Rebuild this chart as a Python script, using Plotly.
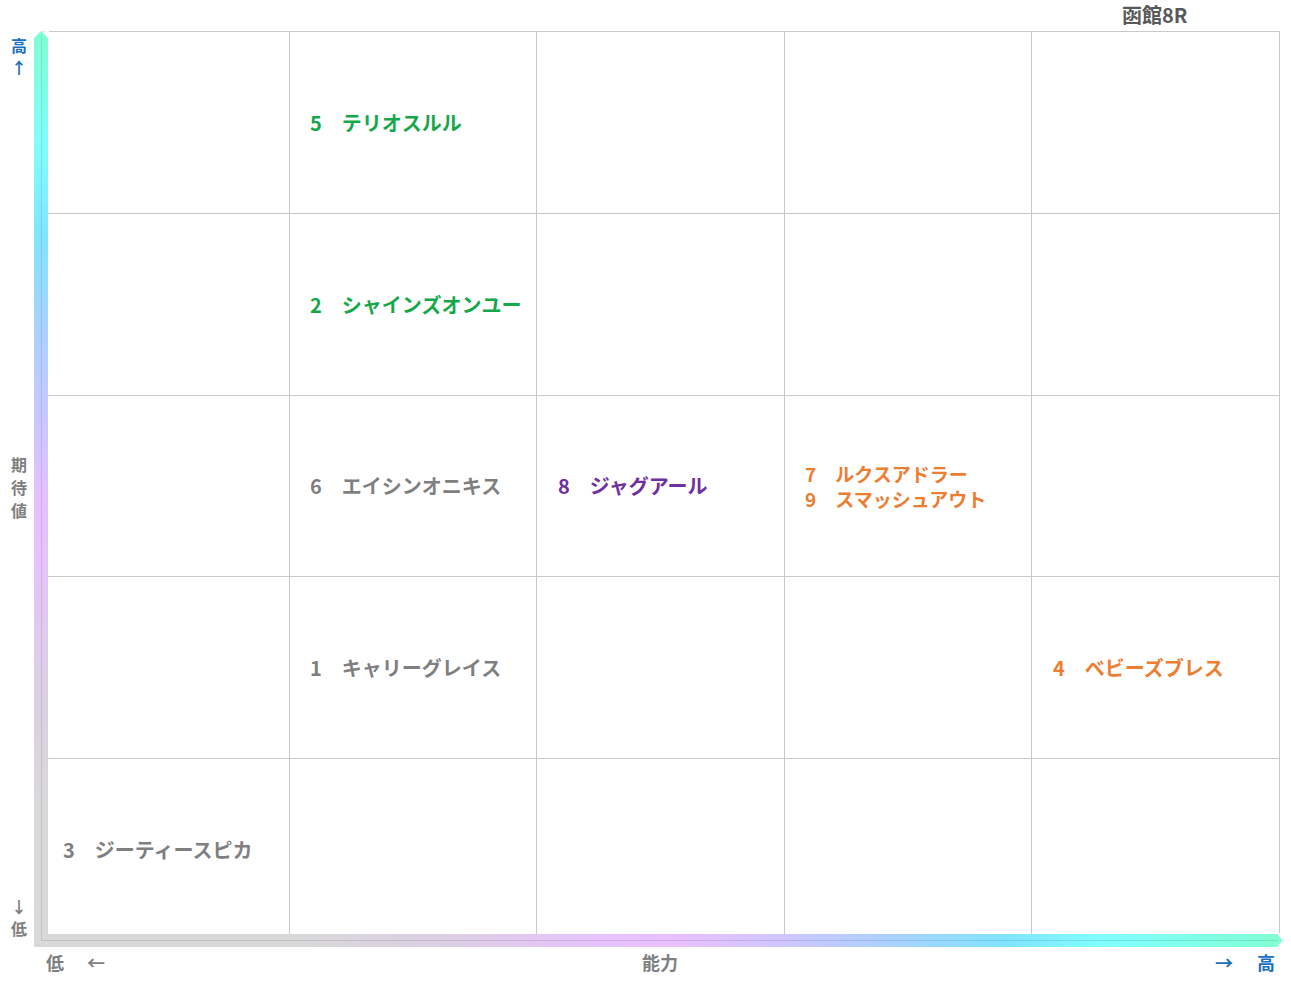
import plotly.graph_objects as go
import numpy as np

# ---------------- data ----------------
numbers = ["5", "2", "6", "8", "7", "9", "1", "4", "3"]
names = ["テリオスルル", "シャインズオンユー", "エイシンオニキス", "ジャグアール",
         "ルクスアドラー", "スマッシュアウト", "キャリーグレイス", "ベビーズブレス", "ジーティースピカ"]
ability = [2, 2, 2, 3, 4, 4, 2, 5, 1]       # column (能力) 1..5
expectation = [5, 4, 3, 3, 3, 3, 2, 2, 1]   # row (期待値) 1..5
groups = ["green", "green", "gray", "purple", "orange", "orange", "gray", "orange", "gray"]

title_text = "函館8R"
x_label = "能力"
y_label = "期待値"

# ---------------- style ----------------
W, H = 1291, 983
PX_L, PX_R, PX_T, PX_B = 42, 1279, 32, 940
COLORS = {"green": "#15a84a", "gray": "#7f7f7f", "purple": "#7030a0", "orange": "#ed7d31"}
BLUE = "#1a6fc0"
GREY = "#7f7f7f"
FONT = "Noto Sans CJK JP"
LINE_GAP = 25


def px(x):
    return x / W


def py(y):
    return 1 - y / H


fig = go.Figure()

# invisible trace to create the main axes
fig.add_trace(go.Scatter(x=[0, 5], y=[0, 5], mode="markers",
                         marker=dict(opacity=0), hoverinfo="skip", showlegend=False))

# group entries by cell
cells = {}
for n, nm, a, e, g in zip(numbers, names, ability, expectation, groups):
    cells.setdefault((a, e), []).append((n, nm, g))

annotations = []
for (a, e), items in cells.items():
    k = len(items)
    for i, (n, nm, g) in enumerate(items):
        annotations.append(dict(
            x=a - 1, y=e - 0.5, xref="x", yref="y", xanchor="left", yanchor="middle",
            xshift=20, yshift=((k - 1) / 2 - i) * LINE_GAP,
            text=f"<b>{n}　{nm}</b>", showarrow=False, align="left", borderpad=0,
            font=dict(family=FONT, size=19 if k > 1 else 20, color=COLORS[g])))


# axis decoration texts
def txt(x, y, s, color, size=18):
    annotations.append(dict(x=px(x), y=py(y), xref="paper", yref="paper",
                            xanchor="center", yanchor="middle", text=f"<b>{s}</b>",
                            showarrow=False, borderpad=0,
                            font=dict(family=FONT, size=size, color=color)))


txt(1155, 14, title_text, "#595959", 20)
txt(19, 45, "高", BLUE, 16)
txt(19, 67, "↑", BLUE, 16)
for i, ch in enumerate(y_label):
    txt(19, 464 + 23 * i, ch, GREY, 16)
txt(19, 906, "↓", GREY, 16)
txt(19, 928, "低", GREY, 16)
txt(55, 962, "低", GREY)
txt(96, 962, "←", GREY)
txt(660, 962, x_label, GREY)
txt(1224, 962, "→", BLUE)
txt(1266, 962, "高", BLUE)

# gradient bars (decorative)
v_scale = [[0.0, "#d9d9d9"], [0.15, "#d9d9d9"], [0.28, "#dccfe4"], [0.42, "#e6c3fb"],
           [0.5, "#e4c0ff"], [0.58, "#c8c8ff"], [0.68, "#a9d2ff"], [0.78, "#80e4ff"],
           [0.88, "#80ffff"], [1.0, "#80ffd4"]]
h_scale = [[0.0, "#d9d9d9"], [0.2, "#d9d9d9"], [0.33, "#dccfe4"], [0.45, "#e6c3fb"],
           [0.52, "#e8c0ff"], [0.6, "#cfc6ff"], [0.68, "#aed0ff"], [0.78, "#80e4ff"],
           [0.86, "#80ffff"], [1.0, "#80ffd4"]]
N = 120
grad = np.linspace(0, 1, N)
fig.add_trace(go.Heatmap(z=np.column_stack([grad, grad]), colorscale=v_scale, zsmooth="best",
                         showscale=False, hoverinfo="skip", xaxis="x2", yaxis="y2"))
fig.add_trace(go.Heatmap(z=np.vstack([grad, grad]), colorscale=h_scale, zsmooth="best",
                         showscale=False, hoverinfo="skip", xaxis="x3", yaxis="y3"))

hidden = dict(visible=False, fixedrange=True)
fig.update_layout(
    width=W, height=H,
    margin=dict(l=0, r=0, t=0, b=0),
    paper_bgcolor="white", plot_bgcolor="white",
    showlegend=False,
    xaxis=dict(domain=[px(PX_L), px(PX_R)], range=[0, 5], dtick=1, showgrid=True,
               gridcolor="#c8c8c8", gridwidth=1, zeroline=False, showticklabels=False,
               showline=True, mirror=True, linecolor="#c8c8c8", fixedrange=True),
    yaxis=dict(domain=[py(PX_B), py(PX_T)], range=[0, 5], dtick=1, showgrid=True,
               gridcolor="#c8c8c8", gridwidth=1, zeroline=False, showticklabels=False,
               showline=True, mirror=True, linecolor="#c8c8c8", fixedrange=True),
    xaxis2=dict(domain=[px(34), px(48)], anchor="y2", **hidden),
    yaxis2=dict(domain=[py(947), py(32)], anchor="x2", **hidden),
    xaxis3=dict(domain=[px(34), px(1282)], anchor="y3", **hidden),
    yaxis3=dict(domain=[py(947), py(934)], anchor="x3", **hidden),
    annotations=annotations,
    shapes=[
        # centre lines of the bars
        dict(type="line", xref="paper", yref="paper", x0=px(41.5), x1=px(41.5), y0=py(940), y1=py(36),
             line=dict(color="rgba(0,0,0,0.10)", width=1)),
        dict(type="line", xref="paper", yref="paper", x0=px(41), x1=px(1278), y0=py(940.5), y1=py(940.5),
             line=dict(color="rgba(0,0,0,0.10)", width=1)),
        # pointed tips
        dict(type="path", xref="paper", yref="paper", fillcolor="white", line=dict(width=0),
             path=f"M {px(33)} {py(31)} L {px(41)} {py(31)} L {px(33)} {py(39)} Z"),
        dict(type="path", xref="paper", yref="paper", fillcolor="white", line=dict(width=0),
             path=f"M {px(49)} {py(31)} L {px(41.5)} {py(31.5)} L {px(49)} {py(39)} Z"),
        dict(type="path", xref="paper", yref="paper", fillcolor="white", line=dict(width=0),
             path=f"M {px(1283)} {py(933)} L {px(1283)} {py(940.5)} L {px(1276)} {py(933)} Z"),
        dict(type="path", xref="paper", yref="paper", fillcolor="white", line=dict(width=0),
             path=f"M {px(1283)} {py(948)} L {px(1283)} {py(940.5)} L {px(1276)} {py(948)} Z"),
    ],
)

fig.write_html("out.html", config={"displayModeBar": False},
               post_script="document.body.style.margin='0';")
